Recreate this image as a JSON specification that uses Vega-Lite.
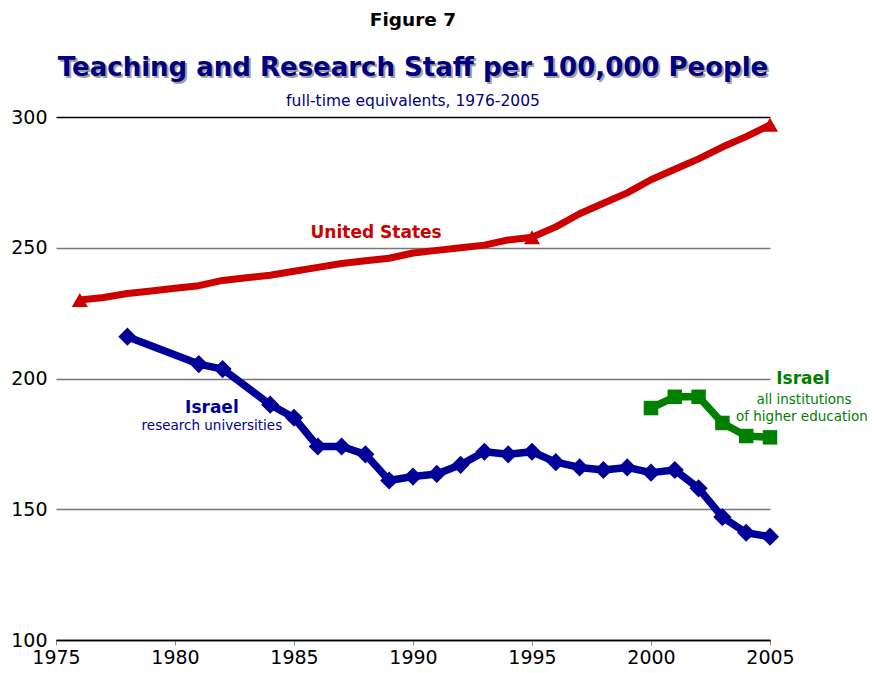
{
  "$schema": "https://vega.github.io/schema/vega-lite/v6.json",
  "width": 714,
  "height": 523,
  "autosize": "none",
  "padding": {"left": 56, "top": 117, "right": 107, "bottom": 33},
  "background": "white",
  "config": {"view": {"stroke": null}, "font": "DejaVu Sans"},
  "datasets": {
    "us": [
      {"year": 1976, "value": 230}, {"year": 1977, "value": 231}, {"year": 1978, "value": 232.5},
      {"year": 1979, "value": 233.5}, {"year": 1980, "value": 234.5}, {"year": 1981, "value": 235.5},
      {"year": 1982, "value": 237.5}, {"year": 1983, "value": 238.5}, {"year": 1984, "value": 239.5},
      {"year": 1985, "value": 241}, {"year": 1986, "value": 242.5}, {"year": 1987, "value": 244},
      {"year": 1988, "value": 245}, {"year": 1989, "value": 246}, {"year": 1990, "value": 248},
      {"year": 1991, "value": 249}, {"year": 1992, "value": 250}, {"year": 1993, "value": 251},
      {"year": 1994, "value": 253}, {"year": 1995, "value": 254}, {"year": 1996, "value": 258},
      {"year": 1997, "value": 263}, {"year": 1998, "value": 267}, {"year": 1999, "value": 271},
      {"year": 2000, "value": 276}, {"year": 2001, "value": 280}, {"year": 2002, "value": 284},
      {"year": 2003, "value": 288.5}, {"year": 2004, "value": 292.5}, {"year": 2005, "value": 297}
    ],
    "israelUni": [
      {"year": 1978, "value": 216}, {"year": 1981, "value": 205.5}, {"year": 1982, "value": 203.6},
      {"year": 1984, "value": 190}, {"year": 1985, "value": 185}, {"year": 1986, "value": 174},
      {"year": 1987, "value": 174}, {"year": 1988, "value": 171}, {"year": 1989, "value": 161},
      {"year": 1990, "value": 162.5}, {"year": 1991, "value": 163.5}, {"year": 1992, "value": 167},
      {"year": 1993, "value": 172}, {"year": 1994, "value": 171}, {"year": 1995, "value": 172},
      {"year": 1996, "value": 168}, {"year": 1997, "value": 166}, {"year": 1998, "value": 165},
      {"year": 1999, "value": 166}, {"year": 2000, "value": 164}, {"year": 2001, "value": 165},
      {"year": 2002, "value": 158}, {"year": 2003, "value": 147}, {"year": 2004, "value": 141},
      {"year": 2005, "value": 139.5}
    ],
    "israelAll": [
      {"year": 2000, "value": 188.7}, {"year": 2001, "value": 193}, {"year": 2002, "value": 193},
      {"year": 2003, "value": 183}, {"year": 2004, "value": 178}, {"year": 2005, "value": 177.5}
    ],
    "labels": [
      {"lx": 1990, "ly": 337, "label": "Figure 7", "kind": "fig"},
      {"lx": 1990, "ly": 318.7, "label": "Teaching and Research Staff per 100,000 People", "kind": "title"},
      {"lx": 1990, "ly": 306.1, "label": "full-time equivalents, 1976-2005", "kind": "sub"},
      {"lx": 1988.45, "ly": 255.6, "label": "United States", "kind": "us"},
      {"lx": 1981.55, "ly": 188.7, "label": "Israel", "kind": "uni"},
      {"lx": 1981.55, "ly": 181.8, "label": "research universities", "kind": "uniSub"},
      {"lx": 2006.39, "ly": 199.8, "label": "Israel", "kind": "all"},
      {"lx": 2006.43, "ly": 191.8, "label": "all institutions", "kind": "allSub"},
      {"lx": 2006.34, "ly": 185.3, "label": "of higher education", "kind": "allSub"}
    ]
  },
  "layer": [
    {
      "data": {"name": "us"},
      "mark": {"type": "line", "color": "#CC0000", "strokeWidth": 7, "strokeJoin": "round"},
      "encoding": {
        "x": {
          "field": "year", "type": "quantitative",
          "scale": {"domain": [1975, 2005], "nice": false, "zero": false},
          "axis": {
            "title": null, "values": [1975, 1980, 1985, 1990, 1995, 2000, 2005], "format": "d",
            "grid": false, "domainColor": "#000", "domainWidth": 1.5, "tickColor": "#888", "tickSize": 5,
            "labelFontSize": 19, "labelColor": "#000", "labelPadding": 3, "labelFlush": false
          }
        },
        "y": {
          "field": "value", "type": "quantitative",
          "scale": {"domain": [100, 300], "nice": false, "zero": false},
          "axis": {
            "title": null, "values": [100, 150, 200, 250, 300], "domain": false, "ticks": false,
            "grid": true,
            "gridColor": {"condition": {"test": "datum.value >= 300 || datum.value <= 100", "value": "#000"}, "value": "#777"},
            "gridWidth": 1.3, "labelFontSize": 19, "labelColor": "#000", "labelPadding": 9
          }
        }
      }
    },
    {
      "data": {"name": "us"},
      "transform": [{"filter": "datum.year == 1976 || datum.year == 1995 || datum.year == 2005"}],
      "mark": {"type": "point", "shape": "triangle-up", "filled": true, "color": "#CC0000", "size": 260, "opacity": 1},
      "encoding": {"x": {"field": "year", "type": "quantitative"}, "y": {"field": "value", "type": "quantitative"}}
    },
    {
      "data": {"name": "israelUni"},
      "mark": {"type": "line", "color": "#000099", "strokeWidth": 7.5, "strokeJoin": "round"},
      "encoding": {"x": {"field": "year", "type": "quantitative"}, "y": {"field": "value", "type": "quantitative"}}
    },
    {
      "data": {"name": "israelUni"},
      "mark": {"type": "point", "shape": "diamond", "filled": true, "color": "#000099", "size": 330, "opacity": 1},
      "encoding": {"x": {"field": "year", "type": "quantitative"}, "y": {"field": "value", "type": "quantitative"}}
    },
    {
      "data": {"name": "israelAll"},
      "mark": {"type": "line", "color": "#008000", "strokeWidth": 7.5, "strokeJoin": "round"},
      "encoding": {"x": {"field": "year", "type": "quantitative"}, "y": {"field": "value", "type": "quantitative"}}
    },
    {
      "data": {"name": "israelAll"},
      "mark": {"type": "point", "shape": "square", "filled": true, "color": "#008000", "size": 210, "opacity": 1},
      "encoding": {"x": {"field": "year", "type": "quantitative"}, "y": {"field": "value", "type": "quantitative"}}
    },
    {
      "data": {"name": "labels"},
      "transform": [{"filter": "datum.kind == 'fig'"}],
      "mark": {"type": "text", "fontSize": 18.5, "fontWeight": "bold", "color": "#000000", "baseline": "middle", "align": "center"},
      "encoding": {"x": {"field": "lx", "type": "quantitative"}, "y": {"field": "ly", "type": "quantitative"}, "text": {"field": "label"}}
    },
    {
      "data": {"name": "labels"},
      "transform": [{"filter": "datum.kind == 'title'"}],
      "mark": {"type": "text", "fontSize": 26, "fontWeight": "bold", "color": "#a0a0a0", "baseline": "middle", "align": "center", "dx": 2, "dy": 2},
      "encoding": {"x": {"field": "lx", "type": "quantitative"}, "y": {"field": "ly", "type": "quantitative"}, "text": {"field": "label"}}
    },
    {
      "data": {"name": "labels"},
      "transform": [{"filter": "datum.kind == 'title'"}],
      "mark": {"type": "text", "fontSize": 26, "fontWeight": "bold", "color": "#000080", "baseline": "middle", "align": "center"},
      "encoding": {"x": {"field": "lx", "type": "quantitative"}, "y": {"field": "ly", "type": "quantitative"}, "text": {"field": "label"}}
    },
    {
      "data": {"name": "labels"},
      "transform": [{"filter": "datum.kind == 'sub'"}],
      "mark": {"type": "text", "fontSize": 15.5, "color": "#000080", "baseline": "middle", "align": "center"},
      "encoding": {"x": {"field": "lx", "type": "quantitative"}, "y": {"field": "ly", "type": "quantitative"}, "text": {"field": "label"}}
    },
    {
      "data": {"name": "labels"},
      "transform": [{"filter": "datum.kind == 'us'"}],
      "mark": {"type": "text", "fontSize": 17, "fontWeight": "bold", "color": "#CC0000", "baseline": "middle", "align": "center"},
      "encoding": {"x": {"field": "lx", "type": "quantitative"}, "y": {"field": "ly", "type": "quantitative"}, "text": {"field": "label"}}
    },
    {
      "data": {"name": "labels"},
      "transform": [{"filter": "datum.kind == 'uni'"}],
      "mark": {"type": "text", "fontSize": 17, "fontWeight": "bold", "color": "#000099", "baseline": "middle", "align": "center"},
      "encoding": {"x": {"field": "lx", "type": "quantitative"}, "y": {"field": "ly", "type": "quantitative"}, "text": {"field": "label"}}
    },
    {
      "data": {"name": "labels"},
      "transform": [{"filter": "datum.kind == 'uniSub'"}],
      "mark": {"type": "text", "fontSize": 13.5, "color": "#000099", "baseline": "middle", "align": "center"},
      "encoding": {"x": {"field": "lx", "type": "quantitative"}, "y": {"field": "ly", "type": "quantitative"}, "text": {"field": "label"}}
    },
    {
      "data": {"name": "labels"},
      "transform": [{"filter": "datum.kind == 'all'"}],
      "mark": {"type": "text", "fontSize": 17, "fontWeight": "bold", "color": "#008000", "baseline": "middle", "align": "center"},
      "encoding": {"x": {"field": "lx", "type": "quantitative"}, "y": {"field": "ly", "type": "quantitative"}, "text": {"field": "label"}}
    },
    {
      "data": {"name": "labels"},
      "transform": [{"filter": "datum.kind == 'allSub'"}],
      "mark": {"type": "text", "fontSize": 13.5, "color": "#008000", "baseline": "middle", "align": "center"},
      "encoding": {"x": {"field": "lx", "type": "quantitative"}, "y": {"field": "ly", "type": "quantitative"}, "text": {"field": "label"}}
    }
  ]
}
